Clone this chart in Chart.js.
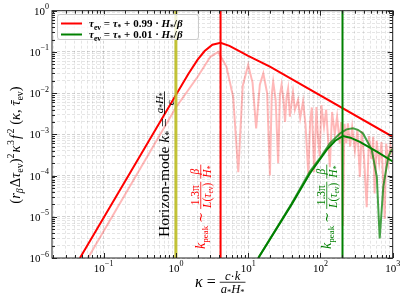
<!DOCTYPE html>
<html>
<head>
<meta charset="utf-8">
<script src="https://cdn.jsdelivr.net/npm/chart.js@4/dist/chart.umd.min.js"></script>
<style>
  html, body { margin: 0; padding: 0; background: #fff; }
</style>
</head>
<body>
<canvas id="chart" width="407" height="302"></canvas>
<script>
// ---- data ----
const kappaRedEnv = [0.047, 1, 1.5, 2, 2.5, 3.2, 4.15, 5.5, 7, 10, 20, 1000];
const specRedEnv  = [1e-6, 9e-3, 3.0e-2, 6.5e-2, 0.105, 0.15, 0.167, 0.14, 0.112, 0.08, 0.044, 8.7e-4];

const kappaRedOsc = [0.0607, 1, 2, 3, 3.85, 5, 6.2, 7.3, 8.4, 10, 11.5, 12.9, 14.5, 16.2, 18.3, 20, 21.2, 22.2, 24, 26,
  27.5, 29, 31, 32.4, 34, 35.7, 37.8, 41.7, 44.3, 49, 52.5, 57.5, 62, 68, 72, 76, 82, 88, 92, 97.7,
  103, 112, 120, 135, 145, 158, 170, 185, 194, 204, 215, 228, 240, 258, 275, 300, 325, 351, 372, 400,
  437, 470, 510, 537, 562, 600, 650, 700, 776, 813, 870, 930, 1000];
const specRedOsc = [1e-6, 4.5e-3, 2.5e-2, 7.6e-2, 0.10, 4.4e-2, 8e-3, 1.2e-4, 1.5e-2, 4.8e-2, 1.8e-2, 1.4e-3, 1.6e-2, 3.0e-2, 1e-2, 1e-4, 9e-3, 1.9e-2, 7e-3, 2e-4,
  9e-3, 1.6e-2, 6e-3, 2e-3, 8e-3, 1.3e-2, 2.7e-3, 1.07e-2, 3.9e-3, 6.8e-3, 2.5e-3, 6.3e-3, 1.8e-3, 1.1e-4, 2e-3, 4.5e-3, 1.2e-4, 4.6e-3, 1e-3, 2.9e-4,
  5.1e-3, 1.5e-3, 4e-3, 1.6e-4, 3.5e-3, 1e-3, 2.7e-3, 6e-4, 2e-3, 6e-6, 1.8e-3, 6e-4, 1.85e-3, 5e-4, 1.5e-3, 4e-4, 1.3e-3, 9.3e-5, 1.2e-3, 3e-4,
  1.7e-5, 9e-4, 2.5e-4, 8.7e-4, 3.7e-5, 7e-4, 2e-4, 6.5e-4, 9e-6, 6e-4, 2e-4, 5.5e-4, 3e-4];

const kappaGreenEnv = [13.8, 40, 71.3, 122, 160, 204, 260, 351, 603, 1000];
const specGreenEnv  = [1e-6, 2.0e-5, 1.12e-4, 4.2e-4, 7e-4, 9.1e-4, 8.3e-4, 6.6e-4, 3.8e-4, 2.2e-4];

const kappaGreenOsc = [13.8, 40, 71.3, 97.7, 135, 186, 230, 282, 330, 389, 513, 603, 661, 741, 871, 966, 1000];
const specGreenOsc  = [1e-6, 2.1e-5, 1.26e-4, 2.6e-4, 6e-4, 1.05e-3, 1.32e-3, 1.41e-3, 1.29e-3, 1.05e-3, 4.2e-4, 9.3e-5, 3e-6, 5.4e-5, 2.9e-4, 4.2e-4, 4.3e-4];

const kHorizon = 1;
const kPeakRed = 4.15;
const kPeakGreen = 202;

const xTicks = [0.1, 1, 10, 100, 1000];
const xTickExps = ['\u22121', '0', '1', '2', '3'];
const yTicks = [1e-6, 1e-5, 1e-4, 1e-3, 1e-2, 1e-1, 1];
const yTickExps = ['\u22126', '\u22125', '\u22124', '\u22123', '\u22122', '\u22121', '0'];

const legendLabels = ['0.99', '0.01'];

const RED = '#ff0000';
const PINK = 'rgba(255,0,0,0.28)';
const GREEN = '#008000';
const GREEN_LIGHT = 'rgba(0,128,0,0.72)';
const OLIVE = 'rgba(188,189,34,0.9)';

const pts = (xs, ys) => xs.map((x, i) => ({ x: x, y: ys[i] }));
const vline = k => [{ x: k, y: 1e-6 }, { x: k, y: 1 }];

// ---- little math-text helpers ----
const SERIF = '"Liberation Serif", "DejaVu Serif", serif';
function fnt(r) { return (r.it ? 'italic ' : '') + (r.b ? 'bold ' : '') + r.s + 'px ' + SERIF; }
function runsWidth(ctx, runs) {
  let w = 0;
  for (const r of runs) { ctx.font = fnt(r); w += ctx.measureText(r.t).width + (r.gap || 0); }
  return w;
}
function drawRuns(ctx, x, y, runs) {
  for (const r of runs) {
    ctx.font = fnt(r);
    const w = ctx.measureText(r.t).width;
    ctx.fillText(r.t, x, y + (r.dy || 0));
    if (r.bar) ctx.fillRect(x + 2, y - r.s * 0.62, w - 1.5, 0.9);
    x += w + (r.gap || 0);
  }
  return x;
}
function drawFrac(ctx, x, y, num, den, size, fs) {
  const wn = runsWidth(ctx, num), wd = runsWidth(ctx, den);
  const w = Math.max(wn, wd) + 2;
  const axis = y - size * 0.3;
  drawRuns(ctx, x + (w - wn) / 2, axis - 2, num);
  drawRuns(ctx, x + (w - wd) / 2, axis + fs * 0.72 + 1.5, den);
  ctx.fillRect(x, axis - 0.4, w, 0.8);
  return x + w;
}
function rotated(ctx, x, y, fn) {
  ctx.save();
  ctx.translate(x, y);
  ctx.rotate(-Math.PI / 2);
  fn();
  ctx.restore();
}

const decor = {
  id: 'decor',
  afterDraw(chart) {
    const { ctx, chartArea: a, scales: { x, y } } = chart;
    ctx.save();

    // frame + inward ticks on all four sides
    ctx.strokeStyle = '#222';
    ctx.lineWidth = 1;
    ctx.strokeRect(a.left, a.top, a.right - a.left, a.bottom - a.top);
    ctx.beginPath();
    for (const t of x.ticks) {
      const px = Math.round(x.getPixelForValue(t.value)) + 0.5;
      const L = t.major ? 5 : 3;
      ctx.moveTo(px, a.bottom); ctx.lineTo(px, a.bottom - L);
      ctx.moveTo(px, a.top); ctx.lineTo(px, a.top + L);
    }
    for (const t of y.ticks) {
      const py = Math.round(y.getPixelForValue(t.value)) + 0.5;
      const L = t.major ? 5 : 3;
      ctx.moveTo(a.left, py); ctx.lineTo(a.left + L, py);
      ctx.moveTo(a.right, py); ctx.lineTo(a.right - L, py);
    }
    ctx.stroke();

    // tick labels 10^n
    ctx.fillStyle = '#000';
    ctx.textBaseline = 'alphabetic';
    xTicks.forEach((v, i) => {
      const base = [{ t: '10', s: 11 }], sup = [{ t: xTickExps[i], s: 8 }];
      const w = runsWidth(ctx, base) + runsWidth(ctx, sup);
      const px = x.getPixelForValue(v);
      const nx = drawRuns(ctx, px - w / 2, 272, base);
      drawRuns(ctx, nx, 266, sup);
    });
    yTicks.forEach((v, i) => {
      const base = [{ t: '10', s: 11 }], sup = [{ t: yTickExps[i], s: 8 }];
      const w = runsWidth(ctx, base) + runsWidth(ctx, sup);
      const py = y.getPixelForValue(v);
      const nx = drawRuns(ctx, 49 - w, py + 4, base);
      drawRuns(ctx, nx, py - 1.5, sup);
    });

    // x axis title
    let cx = drawRuns(ctx, 195, 287, [{ t: '\u03ba', s: 16, it: 1 }, { t: ' = ', s: 16 }]);
    drawFrac(ctx, cx, 287,
      [{ t: 'c', s: 12.5, it: 1 }, { t: '\u00b7', s: 12.5 }, { t: 'k', s: 12.5, it: 1 }],
      [{ t: 'a', s: 12.5, it: 1 }, { t: '*', s: 8.5, dy: 2 }, { t: 'H', s: 12.5, it: 1 }, { t: '*', s: 8.5, dy: 2 }], 16, 12.5);

    // y axis title
    const yTitle = [
      { t: '(', s: 14.5 }, { t: 'r', s: 14.5, it: 1 }, { t: '\u03b2', s: 10, it: 1, dy: 3, gap: 1 },
      { t: '\u0394', s: 14.5 }, { t: '\u03c4', s: 14.5, it: 1 }, { t: 'ev', s: 10, dy: 3 }, { t: ')', s: 14.5 },
      { t: '2', s: 10, dy: -6.5, gap: 1 }, { t: '\u03ba', s: 14.5, it: 1, gap: 0.5 }, { t: '3', s: 10, dy: -6.5, gap: 1 },
      { t: 'f', s: 14.5, it: 1, gap: 1.5 }, { t: '2', s: 10, dy: -6.5 }, { t: ' (', s: 14.5 }, { t: '\u03ba', s: 14.5, it: 1 },
      { t: ', ', s: 14.5 }, { t: '\u03c4', s: 14.5, it: 1, bar: 1 }, { t: 'ev', s: 10, dy: 3 }, { t: ')', s: 14.5 }
    ];
    rotated(ctx, 20, 145, () => {
      const w = runsWidth(ctx, yTitle);
      drawRuns(ctx, -w / 2, 0, yTitle);
    });

    // horizon-mode label
    rotated(ctx, 169, 237, () => {
      let p = drawRuns(ctx, 0, 0, [{ t: 'Horizon-mode ', s: 15.5 }, { t: 'k', s: 15.5, it: 1 }, { t: '*', s: 10, dy: 3 }, { t: ' = ', s: 15.5 }]);
      drawFrac(ctx, p, 0,
        [{ t: 'a', s: 11, it: 1 }, { t: '*', s: 7.5, dy: 2 }, { t: 'H', s: 11, it: 1 }, { t: '*', s: 7.5, dy: 2 }],
        [{ t: 'c', s: 11, it: 1 }], 15, 11);
    });

    // k_peak labels
    const peakLabel = (px, color) => {
      ctx.fillStyle = color;
      rotated(ctx, px, 249, () => {
        let p = drawRuns(ctx, 0, 0, [{ t: 'k', s: 14, it: 1 }, { t: 'peak', s: 9, dy: 3, gap: 3 }, { t: '\u223c', s: 13, gap: 3 }]);
        p = drawFrac(ctx, p, 0,
          [{ t: '1.3\u03c0', s: 11.5 }],
          [{ t: 'L', s: 11.5, it: 1 }, { t: '(', s: 11.5 }, { t: '\u03c4', s: 11.5, it: 1 }, { t: 'ev', s: 7.5, dy: 2 }, { t: ')', s: 11.5 }], 14, 11.5);
        p += 3;
        drawFrac(ctx, p, 0,
          [{ t: '\u03b2', s: 11.5, it: 1 }],
          [{ t: 'H', s: 11.5, it: 1 }, { t: '*', s: 7.5, dy: 2 }], 14, 11.5);
      });
    };
    peakLabel(205, RED);
    peakLabel(331, GREEN);

    // legend
    ctx.fillStyle = 'rgba(255,255,255,0.8)';
    ctx.strokeStyle = '#cccccc';
    ctx.lineWidth = 1;
    ctx.beginPath();
    ctx.roundRect(57.5, 14.5, 141, 25, 2.5);
    ctx.fill();
    ctx.stroke();
    const legendColors = [RED, GREEN];
    legendLabels.forEach((lab, i) => {
      const ly = 23.5 + i * 11;
      ctx.strokeStyle = legendColors[i];
      ctx.lineWidth = 2;
      ctx.beginPath(); ctx.moveTo(61, ly); ctx.lineTo(82, ly); ctx.stroke();
      ctx.fillStyle = '#000';
      drawRuns(ctx, 89, ly + 3.5, [
        { t: '\u03c4', s: 11, it: 1, b: 1 }, { t: 'ev', s: 7.5, dy: 2.5, b: 1 }, { t: ' = ', s: 11, b: 1 },
        { t: '\u03c4', s: 11, it: 1, b: 1 }, { t: '*', s: 7.5, dy: 2.5, b: 1 }, { t: ' + ' + lab + ' \u00b7 ', s: 11, b: 1 },
        { t: 'H', s: 11, it: 1, b: 1 }, { t: '*', s: 7.5, dy: 2.5, b: 1 }, { t: '/', s: 11, b: 1 }, { t: '\u03b2', s: 11, it: 1, b: 1 }
      ]);
    });
    ctx.restore();
  }
};

function logTicks(scale) {
  const t = [];
  const e0 = Math.floor(Math.log10(scale.min)), e1 = Math.ceil(Math.log10(scale.max));
  for (let e = e0; e <= e1; e++) {
    for (let m = 1; m < 10; m++) {
      const v = m * Math.pow(10, e);
      if (v >= scale.min * 0.999 && v <= scale.max * 1.001) t.push({ value: v, major: m === 1 });
    }
  }
  scale.ticks = t;
}

const gridColor = c => (c.tick && c.tick.major) ? 'rgba(0,0,0,0.22)' : 'rgba(0,0,0,0.13)';

const line = (data, color, width, order) => ({
  data: data, borderColor: color, borderWidth: width, pointRadius: 0,
  showLine: true, tension: 0, fill: false, clip: 0, order: order
});

new Chart(document.getElementById('chart'), {
  type: 'scatter',
  data: {
    datasets: [
      line(pts(kappaRedOsc, specRedOsc), PINK, 2, 10),
      line(pts(kappaGreenOsc, specGreenOsc), GREEN_LIGHT, 2, 9),
      line(pts(kappaRedEnv, specRedEnv), RED, 2, 6),
      line(pts(kappaGreenEnv, specGreenEnv), GREEN, 2, 5),
      line(vline(kHorizon), OLIVE, 3, 4),
      line(vline(kPeakRed), RED, 2, 3),
      line(vline(kPeakGreen), GREEN, 2, 2)
    ]
  },
  options: {
    responsive: false,
    animation: false,
    events: [],
    layout: { padding: { left: 0, top: 10.7, right: 14.3, bottom: 0 } },
    plugins: { legend: { display: false }, tooltip: { enabled: false } },
    scales: {
      x: {
        type: 'logarithmic', min: 0.0193, max: 1000,
        ticks: { display: false },
        grid: { drawTicks: false, color: gridColor, lineWidth: 0.8 },
        border: { display: false, dash: [3, 2] },
        afterBuildTicks: logTicks,
        afterFit: s => { s.height = 44; }
      },
      y: {
        type: 'logarithmic', min: 1e-6, max: 1,
        ticks: { display: false },
        grid: { drawTicks: false, color: gridColor, lineWidth: 0.8 },
        border: { display: false, dash: [3, 2] },
        afterBuildTicks: logTicks,
        afterFit: s => { s.width = 52; }
      }
    }
  },
  plugins: [decor]
});
</script>
</body>
</html>
